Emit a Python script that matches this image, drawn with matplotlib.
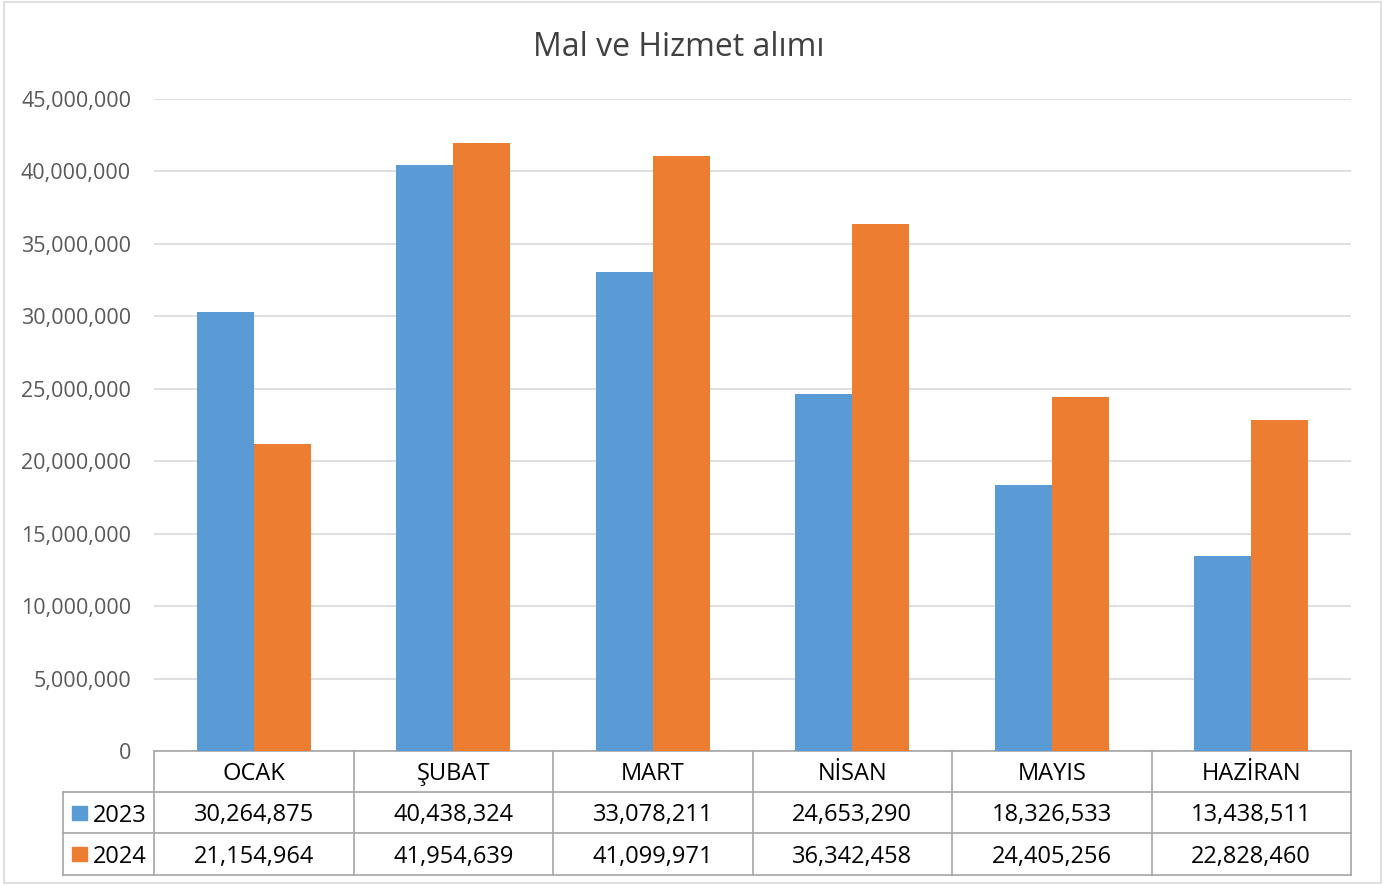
import numpy as np
import matplotlib.pyplot as plt
from matplotlib.lines import Line2D
from matplotlib.patches import Rectangle

months = ['OCAK', 'ŞUBAT', 'MART', 'NİSAN', 'MAYIS', 'HAZİRAN']
years = ['2023', '2024']
v2023 = [30264875, 40438324, 33078211, 24653290, 18326533, 13438511]
v2024 = [21154964, 41954639, 41099971, 36342458, 24405256, 22828460]
colors = ['#5B9BD5', '#ED7D31']

plt.rcParams['font.family'] = ['Open Sans', 'DejaVu Sans']

fig = plt.figure(figsize=(13.97, 8.85), dpi=100)
fig.patches.append(Rectangle((4 / 1397, 2 / 885), 1377 / 1397, 881 / 885,
                             transform=fig.transFigure, fill=False,
                             edgecolor='#d9d9d9', lw=1.2))
ax = fig.add_axes([154 / 1397, 1 - 751 / 885, 1197 / 1397, 652 / 885])

x = np.arange(len(months))
w = 0.286
ax.bar(x - w / 2, v2023, w, color=colors[0], zorder=3)
ax.bar(x + w / 2, v2024, w, color=colors[1], zorder=3)

ax.set_xlim(-0.5, len(months) - 0.5)
ax.set_ylim(0, 45000000)
ax.set_yticks(np.arange(0, 45000001, 5000000))
ax.set_yticklabels([f'{int(t):,}' for t in ax.get_yticks()])
ax.tick_params(axis='y', length=0, pad=16.5, labelsize=15.5, labelcolor='#595959')
ax.set_xticks([])
ax.grid(axis='y', color='#d9d9d9', lw=1.2, zorder=0)
for s in ['top', 'left', 'right', 'bottom']:
    ax.spines[s].set_visible(False)

fig.text(679 / 1397, 1 - 48 / 885, 'Mal ve Hizmet alımı', fontsize=23,
         color='#404040', ha='center', va='center')

# data table under the axis
tr = ax.get_xaxis_transform()
ah = 652.0
r1, r2, r3 = -41 / ah, -82 / ah, -124 / ah
lc = '#a6a6a6'
xl = -0.5 - 91 / 199.5
xr = len(months) - 0.5

def line(xs, ys):
    ax.add_line(Line2D(xs, ys, transform=tr, color=lc, lw=1.2, clip_on=False))

line([-0.5, xr], [0, 0])
for yy in [r1, r2, r3]:
    line([xl, xr], [yy, yy])
line([xl, xl], [r1, r3])
for b in np.arange(-0.5, len(months), 1.0):
    line([b, b], [0, r3])

fs = 17
dy = -3 / ah
for i, m in enumerate(months):
    ax.text(i, r1 / 2 + dy, m, transform=tr, ha='center', va='center', fontsize=fs)
    ax.text(i, (r1 + r2) / 2 + dy, f'{v2023[i]:,}', transform=tr, ha='center', va='center', fontsize=fs)
    ax.text(i, (r2 + r3) / 2 + dy, f'{v2024[i]:,}', transform=tr, ha='center', va='center', fontsize=fs)

for k, (yr, yc) in enumerate(zip(years, [(r1 + r2) / 2, (r2 + r3) / 2])):
    ax.add_patch(Rectangle((xl + 9 / 199.5, yc - 7 / ah), 15 / 199.5, 14 / ah,
                           transform=tr, color=colors[k], clip_on=False))
    ax.text(xl + 30 / 199.5, yc + dy, yr, transform=tr, ha='left', va='center', fontsize=fs)

fig.savefig('out.png', dpi=100)
